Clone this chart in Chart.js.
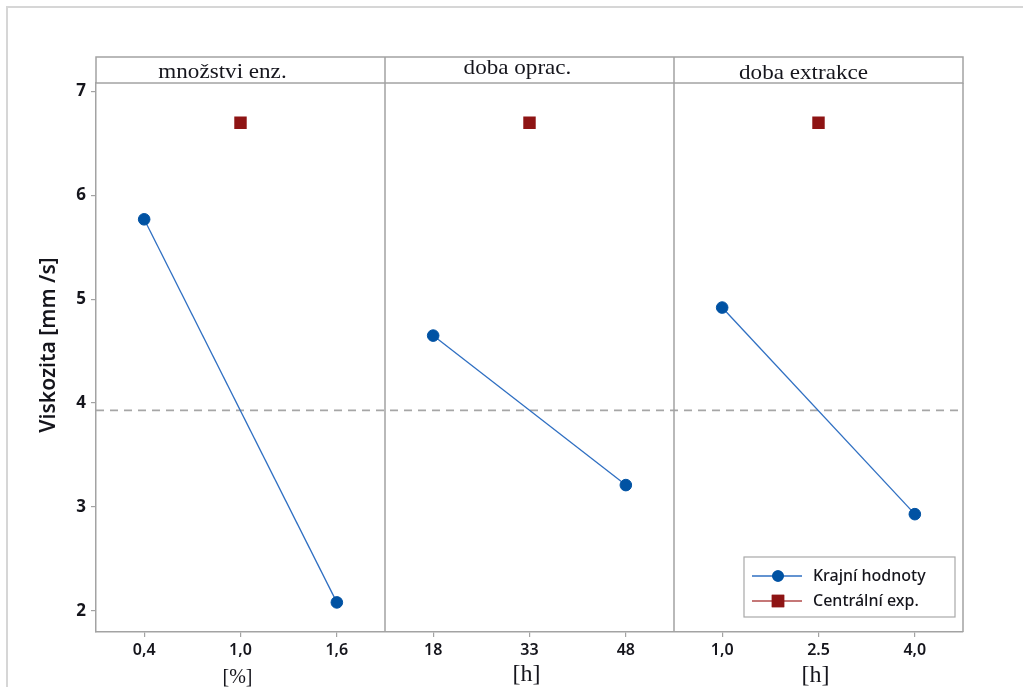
<!DOCTYPE html>
<html>
<head>
<meta charset="utf-8">
<script src="https://cdn.jsdelivr.net/npm/chart.js@4/dist/chart.umd.min.js"></script>
<style>
  html, body { margin: 0; padding: 0; background: #fff; }
  #wrap { position: relative; width: 1023px; height: 687px; overflow: hidden; }
  #frame { position: absolute; left: 6px; top: 6px; width: 1100px; height: 800px;
           border-left: 2px solid #d6d6d6; border-top: 2px solid #d6d6d6; }
  #c { position: absolute; left: 0; top: 0; }
</style>
</head>
<body>
<div id="wrap">
  <div id="frame"></div>
  <canvas id="c" width="1023" height="687"></canvas>
</div>
<script>
// Factors and their levels (low, centre, high)
const factorNames = ['množstvi enz.', 'doba oprac.', 'doba extrakce'];
const levelLabels = ['0,4', '1,0', '1,6', '18', '33', '48', '1,0', '2.5', '4,0'];
const unitLabels = ['[%]', '[h]', '[h]'];

// Mean viscosity at each factor level
const lowLevelMeans = [5.77, 4.65, 4.92];
const highLevelMeans = [2.08, 3.21, 2.93];
const centerPointMeans = [6.70, 6.70, 6.70];
const grandMean = 3.93;

const yTicks = [2, 3, 4, 5, 6, 7];
const yRange = [1.795, 7.083];

const seriesNames = ['Krajní hodnoty', 'Centrální exp.'];

const BLUE_LINE = '#2f6fc2';
const BLUE_POINT = '#0052a3';
const RED_POINT = '#8e1414';
const RED_LINE = '#b24a4a';
const FRAME = '#a3a3a3';
const TEXT = '#15151c';

const SANS = '"Noto Sans", "Open Sans", sans-serif';
const SERIF = '"Liberation Serif", "DejaVu Serif", serif';

const levelsPerFactor = 3;

// One line per factor joining its low and high level
const extremeSets = factorNames.map((name, p) => {
  const data = new Array(levelLabels.length).fill(null);
  data[p * levelsPerFactor] = lowLevelMeans[p];
  data[p * levelsPerFactor + 2] = highLevelMeans[p];
  return {
    label: seriesNames[0],
    data,
    spanGaps: true,
    borderColor: BLUE_LINE,
    borderWidth: 1.3,
    pointStyle: 'circle',
    pointRadius: 5.8,
    pointBackgroundColor: BLUE_POINT,
    pointBorderColor: BLUE_POINT,
    pointBorderWidth: 1,
    tension: 0
  };
});

const centreData = new Array(levelLabels.length).fill(null);
factorNames.forEach((n, p) => { centreData[p * levelsPerFactor + 1] = centerPointMeans[p]; });
const centreSet = {
  label: seriesNames[1],
  data: centreData,
  showLine: false,
  pointStyle: 'rect',
  pointRadius: 8.8,
  pointBackgroundColor: RED_POINT,
  pointBorderColor: RED_POINT,
  pointBorderWidth: 0
};

const panelPlugin = {
  id: 'panels',
  beforeDatasetsDraw(chart) {
    const { ctx, chartArea: a, scales: { y } } = chart;
    const yy = y.getPixelForValue(grandMean);
    ctx.save();
    ctx.strokeStyle = '#a6a6a6';
    ctx.lineWidth = 1.6;
    ctx.setLineDash([8, 6]);
    ctx.beginPath();
    ctx.moveTo(a.left, yy);
    ctx.lineTo(a.right, yy);
    ctx.stroke();
    ctx.restore();
  },
  afterDraw(chart) {
    const { ctx, chartArea: a, scales: { x } } = chart;
    const headH = 26;
    const top = a.top - headH;
    const step = x.getPixelForValue(1) - x.getPixelForValue(0);
    const bounds = [a.left];
    for (let p = 1; p < factorNames.length; p++) {
      bounds.push(x.getPixelForValue(p * levelsPerFactor) - step / 2);
    }
    bounds.push(a.right);

    ctx.save();
    ctx.strokeStyle = FRAME;
    ctx.lineWidth = 1.5;
    ctx.setLineDash([]);
    // header strip and outer box
    ctx.strokeRect(a.left, top, a.right - a.left, headH);
    ctx.beginPath();
    ctx.moveTo(a.right, a.top);
    ctx.lineTo(a.right, a.bottom);
    for (let p = 1; p < factorNames.length; p++) {
      ctx.moveTo(bounds[p], top);
      ctx.lineTo(bounds[p], a.bottom);
    }
    ctx.stroke();

    // factor titles (slightly widened serif)
    ctx.fillStyle = TEXT;
    ctx.font = '21px ' + SERIF;
    ctx.textAlign = 'center';
    ctx.textBaseline = 'alphabetic';
    const headShift = [-18, -12, -15];
    const headBase = [78, 74, 79];
    factorNames.forEach((n, p) => {
      const cx = (bounds[p] + bounds[p + 1]) / 2 + headShift[p];
      ctx.save();
      ctx.translate(cx, headBase[p]);
      ctx.scale(1.1, 1);
      ctx.fillText(n, 0, 0);
      ctx.restore();
    });

    // units under the middle level of each factor
    const unitFont = ['20px ', '24px ', '24px '];
    const unitBase = [683, 681, 682];
    unitLabels.forEach((u, p) => {
      ctx.font = unitFont[p] + SERIF;
      ctx.fillText(u, x.getPixelForValue(p * levelsPerFactor + 1) - 3, unitBase[p]);
    });

    // y-axis title
    ctx.save();
    ctx.translate(49, 345);
    ctx.rotate(-Math.PI / 2);
    ctx.font = '600 21px ' + SANS;
    ctx.textBaseline = 'middle';
    ctx.fillText('Viskozita [mm /s]', 0, 0);
    ctx.restore();

    // legend
    const lx = 744, ly = 557, lw = 211, lh = 60;
    ctx.fillStyle = '#fff';
    ctx.fillRect(lx, ly, lw, lh);
    ctx.strokeStyle = '#a8a8a8';
    ctx.lineWidth = 1.2;
    ctx.strokeRect(lx, ly, lw, lh);
    const rows = [
      { name: seriesNames[0], line: BLUE_LINE, fill: BLUE_POINT, style: 'circle', r: 5.8, yy: ly + 19 },
      { name: seriesNames[1], line: RED_LINE, fill: RED_POINT, style: 'rect', r: 8.8, yy: ly + 44 }
    ];
    rows.forEach(r => {
      ctx.strokeStyle = r.line;
      ctx.lineWidth = 1.4;
      ctx.beginPath();
      ctx.moveTo(lx + 8, r.yy);
      ctx.lineTo(lx + 58, r.yy);
      ctx.stroke();
      ctx.fillStyle = r.fill;
      Chart.helpers.drawPoint(ctx, { pointStyle: r.style, radius: r.r, borderWidth: 0, rotation: 0 }, lx + 34, r.yy);
      ctx.fill();
      ctx.fillStyle = TEXT;
      ctx.font = '500 16px ' + SANS;
      ctx.textAlign = 'left';
      ctx.textBaseline = 'middle';
      ctx.fillText(r.name, lx + 69, r.yy);
    });
    ctx.restore();
  }
};

new Chart(document.getElementById('c'), {
  type: 'line',
  data: { labels: levelLabels, datasets: [...extremeSets, centreSet] },
  plugins: [panelPlugin],
  options: {
    responsive: false,
    animation: false,
    layout: { padding: { top: 83, right: 60, left: 0, bottom: 0 } },
    plugins: { legend: { display: false }, tooltip: { enabled: false }, title: { display: false } },
    scales: {
      x: {
        type: 'category',
        offset: true,
        grid: { display: true, offset: false, drawOnChartArea: false, drawTicks: true, tickLength: 5, color: FRAME, lineWidth: 1.2 },
        border: { display: true, color: FRAME, width: 1.5 },
        ticks: { color: TEXT, font: { family: SANS, size: 16, weight: '600' }, padding: 4, maxRotation: 0, autoSkip: false },
        afterFit(scale) { scale.height = 55; }
      },
      y: {
        min: yRange[0],
        max: yRange[1],
        afterBuildTicks(scale) { scale.ticks = yTicks.map(v => ({ value: v })); },
        grid: { display: true, drawOnChartArea: false, drawTicks: true, tickLength: 5, color: FRAME, lineWidth: 1.2 },
        border: { display: true, color: FRAME, width: 1.5 },
        ticks: { color: TEXT, font: { family: SANS, size: 17, weight: 'bold' }, padding: 5 },
        afterFit(scale) { scale.width = 96; }
      }
    }
  }
});
</script>
</body>
</html>
